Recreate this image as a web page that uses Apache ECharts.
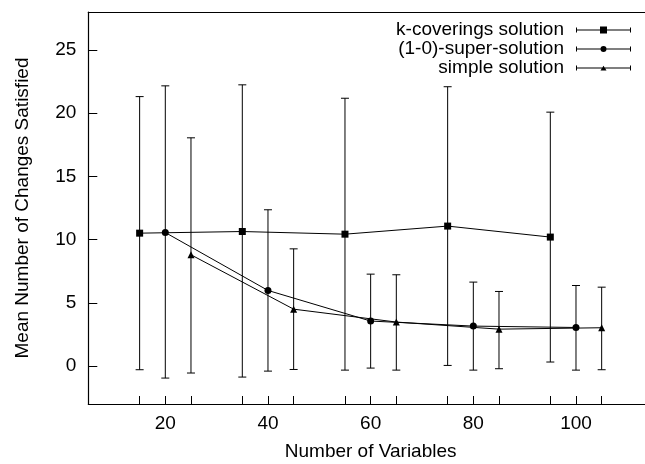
<!DOCTYPE html>
<html>
<head>
<meta charset="utf-8">
<script src="https://cdn.jsdelivr.net/npm/echarts@6/dist/echarts.min.js"></script>
<style>
  html, body { margin: 0; padding: 0; background: #fff; }
  #chart { width: 645px; height: 464px; }
</style>
</head>
<body>
<div id="chart"></div>
<script>
// Number of variables for each series (offset so the bars do not overlap)
const xCoverings = [15, 35, 55, 75, 95];
const xSuper     = [20, 40, 60, 80, 100];
const xSimple    = [25, 45, 65, 85, 105];

// Mean number of changes satisfied
const meanCoverings = [10.51, 10.64, 10.43, 11.07, 10.20];
const meanSuper     = [10.56, 5.98, 3.56, 3.16, 3.05];
const meanSimple    = [8.80, 4.50, 3.48, 2.92, 3.03];

// Error bar extents (low / high)
const lowCoverings  = [-0.29, -0.87, -0.32, 0.05, 0.32];
const highCoverings = [21.31, 22.24, 21.18, 22.09, 20.08];
const lowSuper      = [-0.95, -0.40, -0.16, -0.32, -0.32];
const highSuper     = [22.16, 12.36, 7.27, 6.64, 6.37];
const lowSimple     = [-0.55, -0.27, -0.32, -0.21, -0.29];
const highSimple    = [18.05, 9.27, 7.22, 5.90, 6.24];

const seriesNames = ['k-coverings solution', '(1-0)-super-solution', 'simple solution'];

// Axis ticks and labels
const xTickValues  = [15, 20, 25, 35, 40, 45, 55, 60, 65, 75, 80, 85, 95, 100, 105];
const xLabelValues = [20, 40, 60, 80, 100];
const yTickValues  = [0, 5, 10, 15, 20, 25];

const FONT = 'Liberation Sans, Arial, Helvetica, sans-serif';
const FONT_SIZE = 19;

function zip2(xs, ys) { return xs.map((x, i) => [x, ys[i]]); }
function zip3(xs, lo, hi) { return xs.map((x, i) => [x, lo[i], hi[i]]); }

function renderErrorBar(params, api) {
  const x = api.value(0);
  const pLo = api.coord([x, api.value(1)]);
  const pHi = api.coord([x, api.value(2)]);
  const cap = 4;
  const style = { stroke: '#000', lineWidth: 1 };
  return {
    type: 'group',
    children: [
      { type: 'line', shape: { x1: pLo[0], y1: pLo[1], x2: pHi[0], y2: pHi[1] }, style },
      { type: 'line', shape: { x1: pLo[0] - cap, y1: pLo[1], x2: pLo[0] + cap, y2: pLo[1] }, style },
      { type: 'line', shape: { x1: pHi[0] - cap, y1: pHi[1], x2: pHi[0] + cap, y2: pHi[1] }, style }
    ]
  };
}

function errorSeries(data) {
  return {
    type: 'custom',
    renderItem: renderErrorBar,
    encode: { x: 0, y: [1, 2] },
    data: data,
    silent: true,
    z: 2
  };
}

function lineSeries(name, data, symbol, size) {
  return {
    name: name,
    type: 'line',
    data: data,
    symbol: symbol,
    symbolSize: size,
    showAllSymbol: true,
    color: '#000',
    itemStyle: { color: '#000' },
    lineStyle: { color: '#000', width: 1 },
    emphasis: { disabled: true },
    animation: false,
    z: 3
  };
}

// Legend keys: horizontal error bar with end caps and the series marker
const barPart = 'M0,3h55v1H0z M0,1h1v5H0z M54,1h1v5h-1z ';
const iconSquare   = 'path://' + barPart + 'M24,0h7v7h-7z';
const iconCircle   = 'path://' + barPart + 'M30.5,3.5A3,3,0,1,1,24.5,3.5A3,3,0,1,1,30.5,3.5z';
const iconTriangle = 'path://' + barPart + 'M27.5,1.2L30.5,6H24.5z';

const chart = echarts.init(document.getElementById('chart'), null, { renderer: 'canvas' });

const axisText = { color: '#000', fontFamily: FONT, fontSize: FONT_SIZE };

chart.setOption({
  animation: false,
  backgroundColor: '#fff',
  textStyle: { fontFamily: FONT },
  grid: {
    left: 88.3, top: 12, width: 564.7, height: 392,
    containLabel: false,
    outerBoundsMode: 'none'
  },
  legend: {
    orient: 'vertical',
    right: 14,
    top: 20.5,
    padding: 0,
    itemGap: 0,
    itemWidth: 55,
    itemHeight: 7,
    align: 'right',
    selectedMode: false,
    textStyle: { color: '#000', fontFamily: FONT, fontSize: FONT_SIZE, lineHeight: 19, padding: [0, 7, 0, 0] },
    data: [
      { name: seriesNames[0], icon: iconSquare },
      { name: seriesNames[1], icon: iconCircle },
      { name: seriesNames[2], icon: iconTriangle }
    ]
  },
  xAxis: [
    {
      type: 'value',
      min: 5,
      max: 115,
      position: 'bottom',
      name: 'Number of Variables',
      nameLocation: 'middle',
      nameGap: 38,
      nameTextStyle: axisText,
      axisLine: { show: true, onZero: false, lineStyle: { color: '#000', width: 1.2 } },
      axisTick: { show: true, inside: true, length: 8, customValues: xTickValues, lineStyle: { color: '#000', width: 1 } },
      axisLabel: { show: true, margin: 10, customValues: xLabelValues, ...axisText },
      splitLine: { show: false }
    },
    {
      type: 'value',
      min: 5,
      max: 115,
      position: 'top',
      axisLine: { show: true, onZero: false, lineStyle: { color: '#000', width: 1.2 } },
      axisTick: { show: false },
      axisLabel: { show: false },
      splitLine: { show: false }
    }
  ],
  yAxis: {
    type: 'value',
    min: -3,
    max: 28,
    name: 'Mean Number of Changes Satisfied',
    nameLocation: 'middle',
    nameGap: 56,
    nameRotate: 90,
    nameTextStyle: axisText,
    axisLine: { show: true, onZero: false, lineStyle: { color: '#000', width: 1.2 } },
    axisTick: { show: true, inside: true, length: 9, customValues: yTickValues, lineStyle: { color: '#000', width: 1 } },
    axisLabel: { show: true, margin: 12, customValues: yTickValues, ...axisText },
    splitLine: { show: false }
  },
  series: [
    errorSeries(zip3(xCoverings, lowCoverings, highCoverings)),
    errorSeries(zip3(xSuper, lowSuper, highSuper)),
    errorSeries(zip3(xSimple, lowSimple, highSimple)),
    lineSeries(seriesNames[0], zip2(xCoverings, meanCoverings), 'rect', 7),
    lineSeries(seriesNames[1], zip2(xSuper, meanSuper), 'circle', 7),
    lineSeries(seriesNames[2], zip2(xSimple, meanSimple), 'triangle', 7)
  ]
});
</script>
</body>
</html>
